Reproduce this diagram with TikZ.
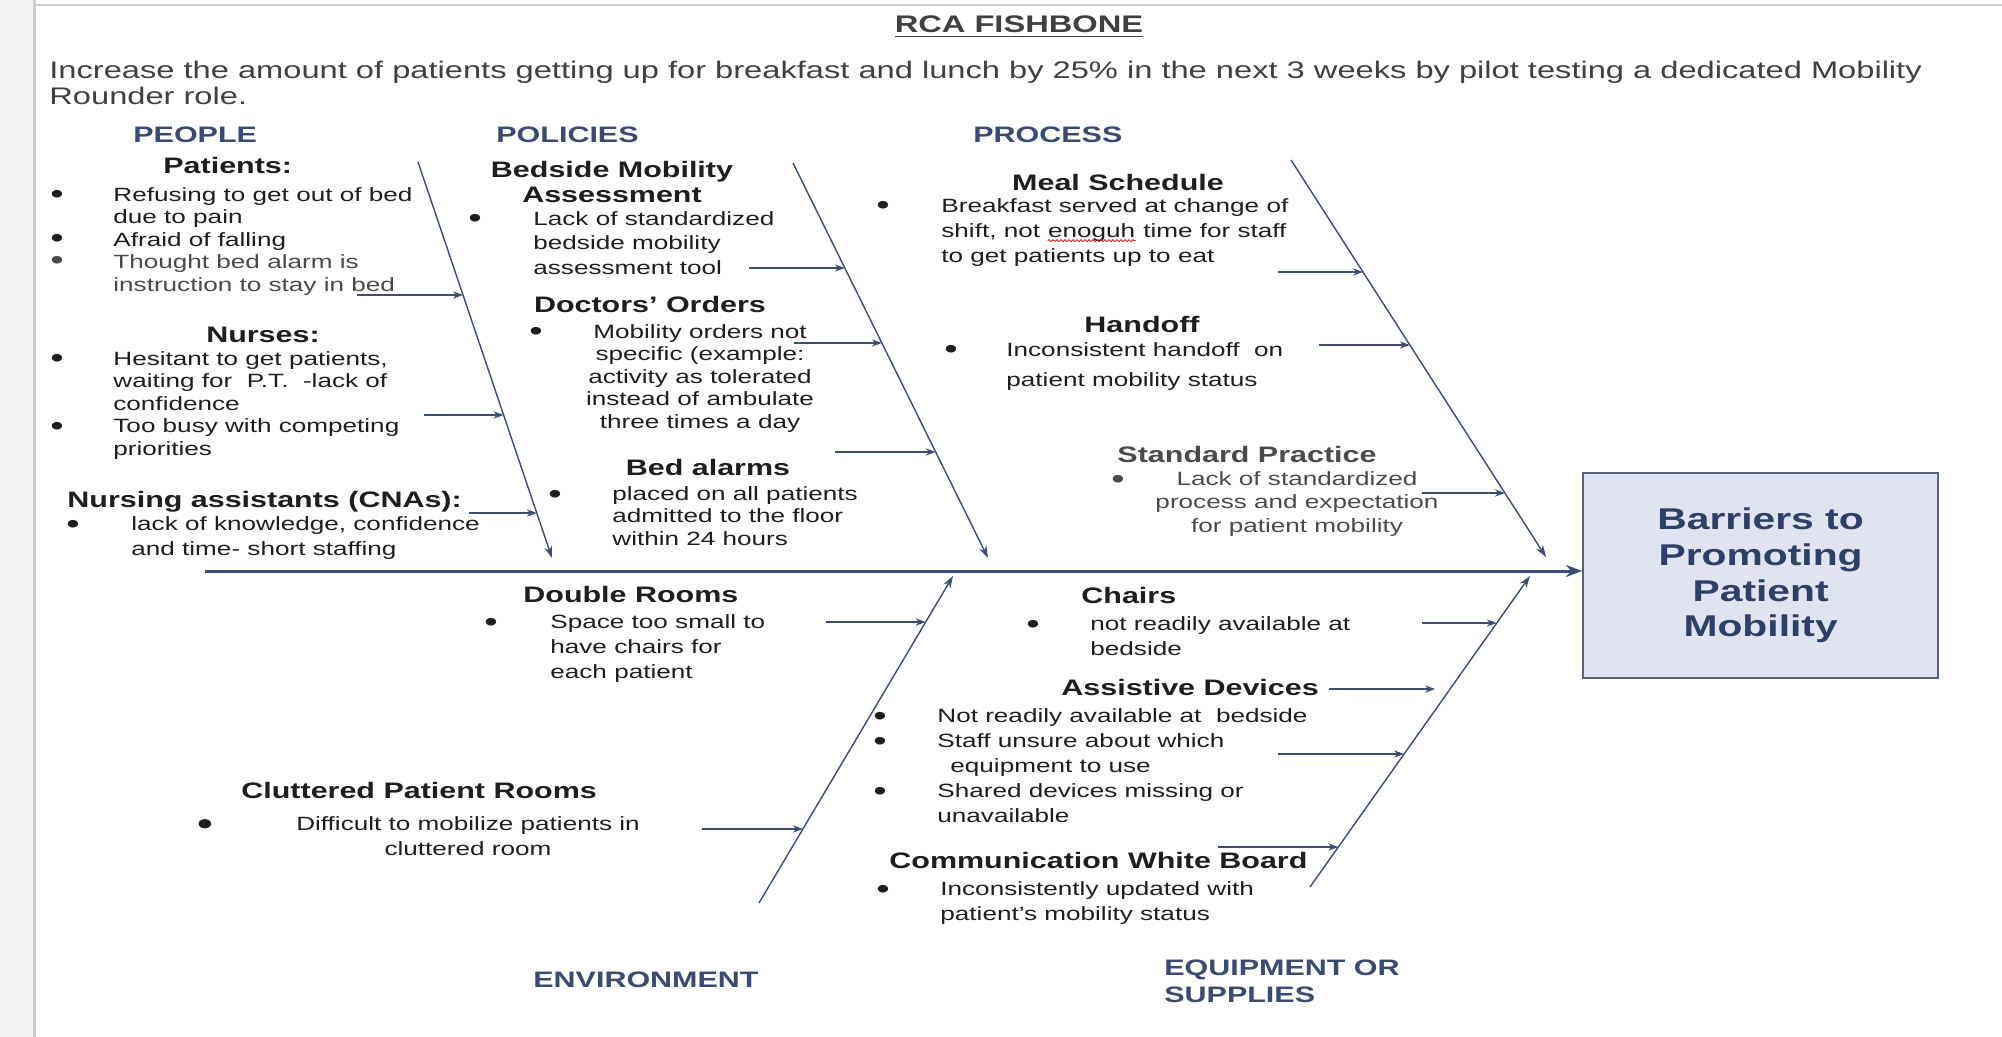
\documentclass[tikz,border=0pt]{standalone}
\usepackage{fontspec}
\setmainfont{Liberation Sans}[FakeStretch=1.36]
\usetikzlibrary{arrows.meta,calc,decorations.pathmorphing}
\definecolor{txtc}{HTML}{1E1E1E}
\definecolor{gtxt}{HTML}{4A4A4A}
\definecolor{catc}{HTML}{3A4A70}
\definecolor{bonec}{HTML}{3D4C73}
\definecolor{boxfill}{HTML}{DFE4F0}
\definecolor{boxdraw}{HTML}{58627A}
\definecolor{boxtxt}{HTML}{2E3F68}
\definecolor{stripc}{HTML}{F1F1F3}
\definecolor{edgec}{HTML}{CDCDCF}
\newcommand\tp{\rule{0pt}{10pt}}
\newcommand\redwave[1]{\tikz[baseline=(w.base)]{\node[inner sep=0pt, anchor=base] (w) {#1};
  \draw[red!80!black, line width=0.35pt, decorate, decoration={snake, amplitude=0.5pt, segment length=2pt}] ([yshift=-1.6pt]w.base west) -- ([yshift=-1.6pt]w.base east);}}
\newcommand\mkconn[4]{%
  \coordinate (#1t) at ($(#2s)!#3!(#2e)$);
  \coordinate (#1s) at (#4,0 |- #1t);
  \draw[conn] (#1s) -- (#1t);}
\begin{document}
\begin{tikzpicture}[x=0.5pt,y=-0.5pt,
 txt/.style={font=\fontsize{9.6}{11.25}\selectfont, text=txtc, inner sep=0pt, align=left, anchor=north west},
 ctxt/.style={txt, align=center, anchor=north},
 hd/.style={font=\fontsize{11.2}{12.5}\selectfont\bfseries, text=txtc, inner sep=0pt, anchor=base west, align=left},
 chd/.style={hd, anchor=base, align=center},
 cat/.style={font=\fontsize{11.2}{13.5}\selectfont\bfseries, text=catc, inner sep=0pt, anchor=base west, align=left},
 bul/.style={font=\fontsize{14}{15}\selectfont, text=txtc, inner sep=0pt, anchor=base, yshift=-1.5pt},
 conn/.style={draw=bonec, line width=0.75pt, -{Stealth[length=5pt,width=3.6pt]}},
 bonel/.style={draw=bonec, line width=0.7pt, -{Stealth[length=6pt,width=4pt]}},
 spine/.style={draw=bonec, line width=1.5pt, -{Stealth[length=8pt,width=6pt]}}]
\useasboundingbox (0,0) rectangle (2002,1037);
\fill[white] (0,0) rectangle (2002,1037);
\fill[stripc] (0,0) rectangle (34,1037);
\draw[edgec, line width=1.5pt] (34,0) -- (34,1037);
\draw[edgec, line width=1.2pt] (34,5) -- (2002,5);

% title and goal
\node[font=\fontsize{12}{14}\selectfont\bfseries, text=txtc!85, inner sep=0pt, anchor=base] (title) at (1019,33) {\underline{RCA FISHBONE}};
\node[font=\fontsize{12}{13.25}\selectfont, text=txtc!85, inner sep=0pt, anchor=north west, align=left] (goal) at (49,58)
 {\tp Increase the amount of patients getting up for breakfast and lunch by 25\% in the next 3 weeks by pilot testing a dedicated Mobility\\Rounder role.};

% categories
\node[cat] (people) at (133,143) {PEOPLE};
\node[cat] (policies) at (496,143) {POLICIES};
\node[cat] (process) at (973,143) {PROCESS};
\node[cat] (environment) at (533,987) {ENVIRONMENT};
\node[cat, anchor=north west] (equipment) at (1164,955) {\tp EQUIPMENT OR\\SUPPLIES};

% people
\node[hd] (patients) at (163,174) {Patients:};
\node[bul] (pb1) at (57,201) {•};
\node[bul] (pb2) at (57,245) {•};
\node[bul, text=gtxt] (pb3) at (57,267) {•};
\node[txt] (patlist) at (113,181) {\tp Refusing to get out of bed\\due to pain\\Afraid of falling\\\textcolor{gtxt}{Thought bed alarm is}\\\textcolor{gtxt}{instruction to stay in bed}};
\node[chd] (nurses) at (263,343) {Nurses:};
\node[bul] (nb1) at (57,365) {•};
\node[bul] (nb2) at (57,433) {•};
\node[txt] (nurlist) at (113,345) {\tp Hesitant to get patients,\\waiting for\ \ P.T.\ \ -lack of\\confidence\\Too busy with competing\\priorities};
\node[hd] (cna) at (67,507) {Nursing assistants (CNAs):};
\node[bul] (cb1) at (73,530) {•};
\node[txt] (cnalist) at (131,510) {\tp lack of knowledge, confidence\\[1.25pt]and time- short staffing};

% policies
\node[chd, anchor=north] (bedside) at (612,157) {\tp Bedside Mobility\\Assessment};
\node[bul] (bb1) at (475,225) {•};
\node[txt] (bedlist) at (533,205) {\tp Lack of standardized\\[1pt]bedside mobility\\[1pt]assessment tool};
\node[chd] (doctors) at (650,313) {Doctors’ Orders};
\node[bul] (db1) at (536,338) {•};
\node[ctxt] (doclist) at (700,318) {\tp Mobility orders not\\specific (example:\\activity as tolerated\\instead of ambulate\\three times a day};
\node[chd] (bedalarms) at (708,475) {Bed alarms};
\node[bul] (ab1) at (555,500) {•};
\node[txt] (alarmlist) at (612,480) {\tp placed on all patients\\admitted to the floor\\within 24 hours};

% process
\node[chd] (meal) at (1118,191) {Meal Schedule};
\node[bul] (mb1) at (883,212) {•};
\node[txt] (meallist) at (941,192) {\tp Breakfast served at change of\\[1.25pt]shift, not \redwave{enoguh} time for staff\\[1.25pt]to get patients up to eat};
\node[chd] (handoff) at (1142,333) {Handoff};
\node[bul] (hb1) at (951,356) {•};
\node[txt] (handlist) at (1006,336) {\tp Inconsistent handoff\ \ on\\[3.75pt]patient mobility status};
\node[chd, text=gtxt] (stdprac) at (1247,462) {Standard Practice};
\node[bul, text=gtxt] (sb1) at (1118,485) {•};
\node[ctxt, text=gtxt] (stdlist) at (1297,465) {\tp Lack of standardized\\[0.5pt]process and expectation\\[0.5pt]for patient mobility};

% environment
\node[hd] (double) at (523,602) {Double Rooms};
\node[bul] (eb1) at (491,628) {•};
\node[txt] (dbllist) at (550,608) {\tp Space too small to\\[1.25pt]have chairs for\\[1.25pt]each patient};
\node[hd] (clutter) at (241,798) {Cluttered Patient Rooms};
\node[bul, font=\fontsize{17}{18}\selectfont, yshift=-0.5pt] (clb) at (205,831) {•};
\node[ctxt] (clutlist) at (468,810) {\tp Difficult to mobilize patients in\\[1.25pt]cluttered room};

% equipment
\node[hd] (chairs) at (1081,603) {Chairs};
\node[bul] (qb1) at (1033,630) {•};
\node[txt] (chairlist) at (1090,610) {\tp not readily available at\\[1.25pt]bedside};
\node[hd] (assist) at (1061,695) {Assistive Devices};
\node[bul] (ib1) at (880,722) {•};
\node[bul] (ib2) at (880,747) {•};
\node[bul] (ib3) at (880,797) {•};
\node[txt] (assistlist) at (937,702) {\tp Not readily available at\ \ bedside\\[1.25pt]Staff unsure about which\\[1.25pt]\hspace{6.5pt}equipment to use\\[1.25pt]Shared devices missing or\\[1.25pt]unavailable};
\node[hd] (whiteboard) at (889,868) {Communication White Board};
\node[bul] (wb1) at (883,895) {•};
\node[txt] (wblist) at (940,875) {\tp Inconsistently updated with\\[1.25pt]patient’s mobility status};

% effect box
\node[draw=boxdraw, line width=1.1pt, fill=boxfill, minimum width=177.5pt, minimum height=102.5pt, anchor=north west, inner sep=0pt,
  font=\fontsize{15}{17.85}\selectfont\bfseries, text=boxtxt, align=center] (effect) at (1582,472) {Barriers to\\Promoting\\Patient\\Mobility};

% spine and bones
\coordinate (spinestart) at (205,571);
\draw[spine] (spinestart) -- (spinestart -| effect.west);
\coordinate (b1s) at (418,162); \coordinate (b1e) at (552,558);
\coordinate (b2s) at (793,163); \coordinate (b2e) at (988,558);
\coordinate (b3s) at (1291,160); \coordinate (b3e) at (1546,557);
\coordinate (b4s) at (759,903); \coordinate (b4e) at (953,576);
\coordinate (b5s) at (1310,887); \coordinate (b5e) at (1530,576);
\foreach \b in {b1,b2,b3,b4,b5} {\draw[bonel] (\b s) -- (\b e);}

% connectors into bones
\mkconn{a1}{b1}{0.3359}{357}
\mkconn{a2}{b1}{0.6389}{424}
\mkconn{a3}{b1}{0.8864}{469}
\mkconn{a4}{b2}{0.2658}{749}
\mkconn{a5}{b2}{0.4557}{794}
\mkconn{a6}{b2}{0.7316}{835}
\mkconn{a7}{b3}{0.2821}{1278}
\mkconn{a8}{b3}{0.4660}{1319}
\mkconn{a9}{b3}{0.8388}{1422}
\mkconn{a10}{b4}{0.8593}{826}
\mkconn{a11}{b4}{0.2263}{702}
\mkconn{a12}{b5}{0.8489}{1422}
\coordinate (a13t) at ($(b5s)!0.6367!(b5e)+(-15,0)$);
\coordinate (a13s) at (1329,0 |- a13t);
\draw[conn] (a13s) -- (a13t);
\mkconn{a14}{b5}{0.4277}{1278}
\mkconn{a15}{b5}{0.1286}{1218}
\end{tikzpicture}
\end{document}
